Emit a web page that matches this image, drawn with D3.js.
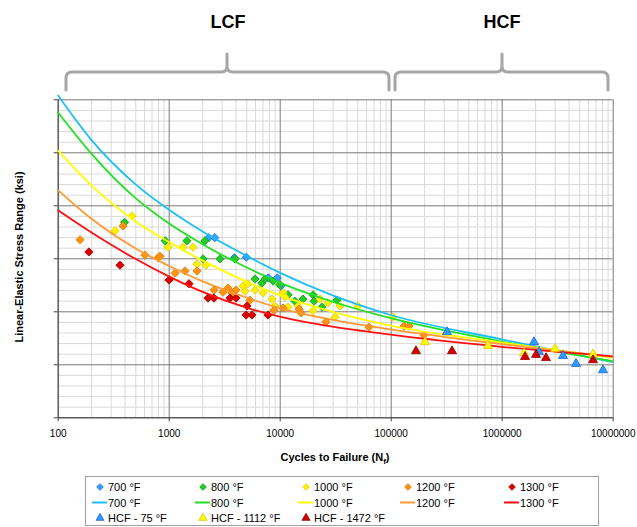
<!DOCTYPE html>
<meta charset="utf-8">
<style>
  body { margin: 0; background: #fff; }
  svg { font-family: "Liberation Sans", Arial, sans-serif; }
  .grid-minor line { stroke: #d9d9d9; stroke-width: 1px; }
  .grid-major line { stroke: #7a7a7a; stroke-width: 1px; }
  .grid .domain { display: none; }
  .axis .domain { stroke: #404040; }
  .axis line { stroke: #404040; }
  .axis text { font-size: 10px; fill: #000; }
  .bracket { fill: none; stroke: #a6a6a6; stroke-width: 3px; stroke-linecap: round; stroke-linejoin: round; }
</style>
<body>
<script src="https://cdn.jsdelivr.net/npm/d3@7"></script>
<script>
// cycles used for the fitted curves
var fitCycles = [100, 200, 500, 1000, 2000, 5000, 10000, 30000, 100000, 1000000, 10000000];
// fitted curve values (ksi)
var fit700  = [60.8, 52.4, 44.0, 39.2, 35.1, 30.5, 27.3, 23.0, 19.3, 14.7, 10.4];
var fit800  = [57.6, 49.8, 41.4, 36.6, 32.7, 28.3, 25.4, 21.8, 18.7, 14.3, 10.6];
var fit1000 = [50.4, 43.8, 37.0, 33.1, 29.6, 25.6, 23.0, 19.9, 17.3, 14.1, 11.2];
var fit1200 = [42.9, 37.5, 31.9, 28.6, 25.7, 22.6, 20.6, 18.4, 16.6, 13.8, 11.4];
var fit1300 = [39.1, 34.9, 29.9, 26.6, 23.7, 20.7, 19.0, 17.1, 15.6, 13.3, 11.5];

// test points [cycles, stress range]
var pts700 = [[2300, 33.9], [2600, 33.9], [3900, 30.1], [5000, 30.2], [7900, 26.3], [9500, 26.3], [10300, 24.8]];
var pts800 = [[400, 36.8], [930, 33.3], [1460, 33.3], [2120, 33.3], [2040, 29.9], [2900, 29.9], [3960, 29.9],
  [6000, 26.1], [6900, 25.3], [7400, 26.1], [8700, 25.7], [10000, 25.0], [11900, 23.1], [13700, 21.9],
  [16200, 22.3], [20000, 23.1], [20400, 21.9], [24000, 20.8], [32800, 22.1]];
var pts1000 = [[328, 35.2], [467, 38.0], [986, 32.1], [1345, 32.1], [1656, 32.1], [1799, 28.9], [2168, 28.7],
  [4670, 24.8], [5180, 25.2], [4870, 23.8], [5985, 24.0], [7080, 23.5], [8530, 22.3], [10710, 23.5],
  [11160, 22.7], [9070, 21.0], [11880, 20.8], [14620, 21.0], [19950, 20.1], [23070, 22.3], [27230, 21.6],
  [31480, 18.9], [34910, 21.0], [50700, 21.0], [104900, 18.9]];
var pts1200 = [[159, 33.5], [388, 36.1], [611, 30.6], [801, 30.1], [835, 30.4], [1140, 27.2], [1402, 27.6],
  [1799, 27.6], [2559, 24.0], [3083, 23.6], [3420, 24.4], [3717, 23.5], [4040, 24.0], [5400, 22.1],
  [8890, 20.2], [10710, 20.6], [14930, 20.4], [15560, 19.7], [26120, 18.0], [63800, 17.0], [131800, 17.2],
  [146200, 17.2], [199500, 15.5]];
var pts1300 = [[191, 31.2], [364, 28.7], [1006, 25.9], [1524, 25.2], [2259, 22.5], [2559, 22.5], [3566, 22.5],
  [4040, 22.5], [5070, 21.0], [4970, 19.3], [5625, 19.3], [7850, 19.3]];
var hcf75 = [[321400, 16.1], [1954000, 14.2], [2168000, 12.3], [3566000, 11.6], [4670000, 10.1], [8180000, 8.9]];
var hcf1112 = [[203700, 14.2], [753500, 13.5], [1589000, 12.1], [3020000, 12.9], [6650000, 11.9]];
var hcf1472 = [[169000, 12.5], [356600, 12.5], [1622000, 11.4], [2037000, 11.8], [2506000, 11.2], [6650000, 10.8]];

var xTicks = [100, 1000, 10000, 100000, 1000000, 10000000];
var yMajor = [0, 10, 20, 30, 40, 50, 60];

var W = 637, H = 527;
var plotL = 57.7, plotR = 612.7, plotT = 99.3, plotB = 417.3;

var svg = d3.select("body").append("svg").attr("width", W).attr("height", H);

var x = d3.scaleLog().domain([100, 10000000]).range([plotL, plotR]);
var y = d3.scaleLinear().domain([0, 60]).range([plotB, plotT]);

// minor grid
var xMinor = [];
for (var e = 2; e < 7; e++) {
  for (var k = 2; k < 10; k++) xMinor.push(k * Math.pow(10, e));
}
var yMinor = d3.range(0, 61, 2).filter(function(v) { return v % 10 != 0; });

svg.append("g").attr("class", "grid grid-minor")
  .attr("transform", "translate(0," + plotB + ")")
  .call(d3.axisBottom(x).tickValues(xMinor).tickSize(-(plotB - plotT)).tickFormat(""));
svg.append("g").attr("class", "grid grid-minor")
  .attr("transform", "translate(" + plotL + ",0)")
  .call(d3.axisLeft(y).tickValues(yMinor).tickSize(-(plotR - plotL)).tickFormat(""));
svg.append("g").attr("class", "grid grid-major")
  .attr("transform", "translate(0," + plotB + ")")
  .call(d3.axisBottom(x).tickValues(xTicks).tickSize(-(plotB - plotT)).tickFormat(""));
svg.append("g").attr("class", "grid grid-major")
  .attr("transform", "translate(" + plotL + ",0)")
  .call(d3.axisLeft(y).tickValues(yMajor).tickSize(-(plotR - plotL)).tickFormat(""));

// axes
svg.append("g").attr("class", "axis")
  .attr("transform", "translate(0," + plotB + ")")
  .call(d3.axisBottom(x).tickValues(xTicks).tickSizeInner(4).tickSizeOuter(0).tickPadding(9).tickFormat(d3.format("d")));
svg.append("g").attr("class", "axis")
  .attr("transform", "translate(" + plotL + ",0)")
  .call(d3.axisLeft(y).tickValues(yMajor).tickSizeInner(4).tickSizeOuter(0).tickFormat(""));

// series styles
var diamondSeries = [
  { name: "700 °F", data: pts700, fill: "#33a3ff", stroke: "#1f6fe0" },
  { name: "800 °F", data: pts800, fill: "#22cc22", stroke: "#12a012" },
  { name: "1000 °F", data: pts1000, fill: "#fff000", stroke: "#e6cf00" },
  { name: "1200 °F", data: pts1200, fill: "#ff9411", stroke: "#e57a00" },
  { name: "1300 °F", data: pts1300, fill: "#dd0000", stroke: "#b00000" }
];
var lineSeries = [
  { name: "700 °F", data: fit700, color: "#1cc0f4" },
  { name: "800 °F", data: fit800, color: "#22e022" },
  { name: "1000 °F", data: fit1000, color: "#ffff00" },
  { name: "1200 °F", data: fit1200, color: "#ff9933" },
  { name: "1300 °F", data: fit1300, color: "#ff1010" }
];
var triSeries = [
  { name: "HCF - 75 °F", data: hcf75, fill: "#2f9bff", stroke: "#1a66d0" },
  { name: "HCF - 1112 °F", data: hcf1112, fill: "#ffff00", stroke: "#e0c400" },
  { name: "HCF - 1472 °F", data: hcf1472, fill: "#d00000", stroke: "#990000" }
];

var diamond = d3.symbol().type(d3.symbolSquare).size(34);
var tri = d3.symbol().type(d3.symbolTriangle).size(36);

diamondSeries.forEach(function(s) {
  svg.append("g").selectAll("path").data(s.data).enter().append("path")
    .attr("d", diamond)
    .attr("transform", function(d) { return "translate(" + x(d[0]) + "," + y(d[1]) + ") rotate(45)"; })
    .attr("fill", s.fill).attr("stroke", s.stroke).attr("stroke-width", 0.8);
});

var line = d3.line()
  .x(function(d, i) { return x(fitCycles[i]); })
  .y(function(d) { return y(d); })
  .curve(d3.curveMonotoneX);

lineSeries.forEach(function(s) {
  svg.append("path").datum(s.data)
    .attr("d", line)
    .attr("fill", "none").attr("stroke", s.color).attr("stroke-width", 1.8);
});

triSeries.forEach(function(s) {
  svg.append("g").selectAll("path").data(s.data).enter().append("path")
    .attr("d", tri)
    .attr("transform", function(d) { return "translate(" + x(d[0]) + "," + y(d[1]) + ")"; })
    .attr("fill", s.fill).attr("stroke", s.stroke).attr("stroke-width", 0.8);
});

// axis titles
svg.append("text")
  .attr("transform", "translate(23,257) rotate(-90)")
  .attr("text-anchor", "middle")
  .style("font-size", "11px").style("font-weight", "bold")
  .text("Linear-Elastic Stress Range (ksi)");

var xt = svg.append("text")
  .attr("x", 335).attr("y", 461)
  .attr("text-anchor", "middle")
  .style("font-size", "11px").style("font-weight", "bold");
xt.append("tspan").text("Cycles to Failure (N");
xt.append("tspan").attr("dy", 3).style("font-size", "8px").text("f");
xt.append("tspan").attr("dy", -3).text(")");

// LCF / HCF brackets
svg.append("path").attr("class", "bracket")
  .attr("d", "M66,90 L66,78 Q66,72 72,72 L221,72 Q227,72 227,66 L227,54 M227,66 Q227,72 233,72 L383,72 Q389,72 389,78 L389,90");
svg.append("path").attr("class", "bracket")
  .attr("d", "M395,90 L395,78 Q395,72 401,72 L496,72 Q502,72 502,66 L502,54 M502,66 Q502,72 508,72 L602,72 Q608,72 608,78 L608,90");
svg.append("text").attr("x", 228).attr("y", 28).attr("text-anchor", "middle")
  .style("font-size", "18px").style("font-weight", "bold").text("LCF");
svg.append("text").attr("x", 502).attr("y", 28).attr("text-anchor", "middle")
  .style("font-size", "18px").style("font-weight", "bold").text("HCF");

// legend
var colX = [100, 203, 306, 408, 512];
var rowY = [487, 502.5, 518];
var lg = svg.append("g");
lg.append("rect").attr("x", 85.5).attr("y", 476.5).attr("width", 513).attr("height", 49)
  .attr("fill", "#fff").attr("stroke", "#a0a0a0");

function legendText(cx, cy, label) {
  lg.append("text").attr("x", cx + 8).attr("y", cy + 4)
    .style("font-size", "11px").attr("fill", "#000").text(label);
}
diamondSeries.forEach(function(s, i) {
  lg.append("path").attr("d", d3.symbol().type(d3.symbolSquare).size(22))
    .attr("transform", "translate(" + colX[i] + "," + rowY[0] + ") rotate(45)")
    .attr("fill", s.fill).attr("stroke", s.stroke).attr("stroke-width", 0.8);
  legendText(colX[i], rowY[0], s.name);
});
lineSeries.forEach(function(s, i) {
  lg.append("line").attr("x1", colX[i] - 8).attr("x2", colX[i] + 7)
    .attr("y1", rowY[1]).attr("y2", rowY[1])
    .attr("stroke", s.color).attr("stroke-width", 2);
  legendText(colX[i], rowY[1], s.name);
});
triSeries.forEach(function(s, i) {
  lg.append("path").attr("d", d3.symbol().type(d3.symbolTriangle).size(28))
    .attr("transform", "translate(" + colX[i] + "," + rowY[2] + ")")
    .attr("fill", s.fill).attr("stroke", s.stroke).attr("stroke-width", 0.8);
  legendText(colX[i], rowY[2], s.name);
});
</script>
</body>
